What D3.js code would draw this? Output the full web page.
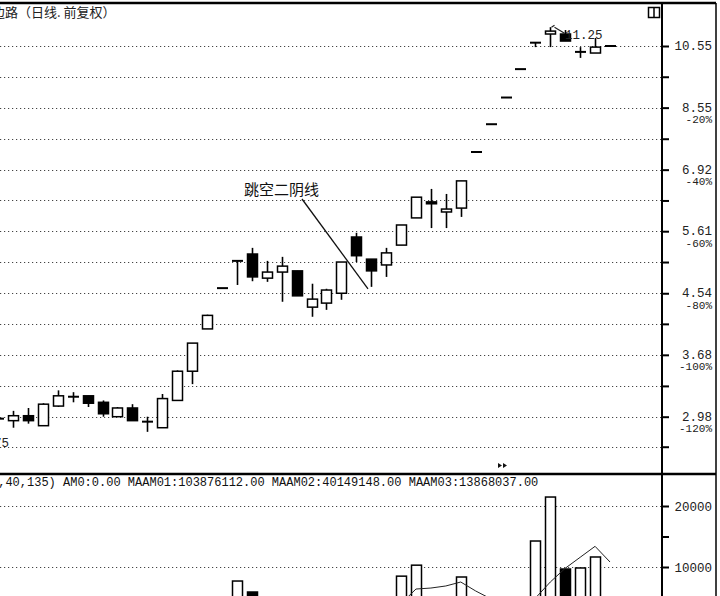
<!DOCTYPE html>
<html><head><meta charset="utf-8">
<script src="https://cdn.jsdelivr.net/npm/d3@7/dist/d3.min.js"></script>
<style>body{margin:0;background:#fff}svg{display:block}</style>
</head><body><svg id="c" width="720" height="596"></svg>
<script>
// ---- data (day index -1 .. 40) ----
const days  = d3.range(-1, 41);
const open  = [2.96,2.94,2.99,2.89,3.09,3.19,3.20,3.13,2.98,3.07,2.93,2.87,3.15,3.48,4.02,4.62,5.07,5.19,4.78,4.88,4.90,4.33,4.39,4.54,5.50,5.10,5.00,5.35,5.87,6.20,5.99,6.07,7.35,8.08,8.85,9.75,10.67,10.99,10.99,10.34,10.30,10.55];
const high  = [2.96,3.04,3.07,3.12,3.26,3.24,3.20,3.15,3.08,3.11,2.98,3.22,3.49,3.83,4.22,4.62,5.07,5.30,5.07,5.14,4.90,4.69,4.61,5.05,5.58,5.10,5.30,5.73,6.30,6.48,6.37,6.66,7.35,8.08,8.85,9.75,10.67,11.25,11.14,10.51,10.84,10.55];
const low   = [2.96,2.87,2.91,2.89,3.08,3.13,3.08,2.98,2.98,2.94,2.83,2.87,3.15,3.33,4.02,4.62,4.67,4.73,4.72,4.41,4.50,4.19,4.29,4.44,5.05,4.64,4.80,5.35,5.87,5.67,5.67,5.89,7.35,8.08,8.85,9.75,10.51,10.51,10.73,10.13,10.30,10.55];
const close = [2.96,2.99,2.94,3.11,3.20,3.19,3.12,3.01,3.07,2.94,2.93,3.17,3.48,3.83,4.21,4.62,5.07,4.80,4.88,4.98,4.50,4.45,4.59,5.05,5.16,4.90,5.21,5.73,6.30,6.16,6.05,6.66,7.35,8.08,8.85,9.75,10.67,11.10,10.73,10.34,10.51,10.55];
const volume = [2000,2200,2100,3800,3000,1800,2200,2600,1900,2500,2100,4200,4600,4900,4500,1200,7700,5900,3600,4700,4800,3900,3300,5000,4900,3800,3900,8500,10300,4800,4600,8360,900,700,800,2900,14260,21470,9670,9840,11640,3000];
const volMAdays = d3.range(20, 41);
const volMA = [4300,4200,4000,4300,4400,4300,4000,6390,6550,6890,7540,6070,4800,3600,2900,4900,7540,9790,11590,13390,10820];

const gridPrices = [10.55,9.50,8.55,7.69,6.92,6.23,5.61,5.05,4.54,4.09,3.68,3.31,2.98,2.69];
const priceLabels = ["10.55","8.55","6.92","5.61","4.54","3.68","2.98"];
const pctLabels   = ["","-20%","-40%","-60%","-80%","-100%","-120%"];
const volTicks = [20000,15000,10000];
const volLabels = [20000,10000];

const titleText = "边路（日线. 前复权）";
const indText = "AMO(5,40,135) AM0:0.00 MAAM01:103876112.00 MAAM02:40149148.00 MAAM03:13868037.00";
const noteText = "跳空二阴线";
const highMark = "11.25";
const lowMark = "2.75";

// ---- layout ----
const svg = d3.select("#c");
const axisX = 662, mainTop = 4, mainBot = 474, W = 720, H = 596;
const x  = d3.scaleLinear().domain([0, 40]).range([13, 610]);
const y  = d3.scaleLog().domain([2.98, 10.55]).range([416.7, 46]);
const yv = d3.scaleLinear().domain([0, 20000]).range([628, 506]);
const mono = "'Liberation Mono','DejaVu Sans Mono',monospace";
const cjk = "'Noto Sans CJK SC','Noto Sans CJK JP',sans-serif";

const defs = svg.append("defs");
defs.append("clipPath").attr("id","cm").append("rect").attr("x",0).attr("y",mainTop).attr("width",axisX-1).attr("height",mainBot-mainTop-1);
defs.append("clipPath").attr("id","cv").append("rect").attr("x",0).attr("y",mainBot+1).attr("width",axisX-1).attr("height",H-mainBot);

// gridlines main
svg.append("g").selectAll("line").data(gridPrices).join("line")
  .attr("x1",0).attr("x2",axisX).attr("y1",d=>Math.round(y(d))+0.5).attr("y2",d=>Math.round(y(d))+0.5)
  .attr("stroke","#444").attr("stroke-width",1.2).attr("stroke-dasharray","1.2,2.8");
// gridlines volume
svg.append("g").selectAll("line").data(volLabels).join("line")
  .attr("x1",0).attr("x2",axisX).attr("y1",d=>Math.round(yv(d))+0.5).attr("y2",d=>Math.round(yv(d))+0.5)
  .attr("stroke","#444").attr("stroke-width",1.2).attr("stroke-dasharray","1.2,2.8");

// right axes ticks
const ax = svg.append("g").attr("transform",`translate(${axisX},0)`)
  .call(d3.axisRight(y).tickValues(gridPrices).tickSize(7).tickFormat(""));
ax.select(".domain").remove();
ax.selectAll("line").attr("stroke","#000").attr("stroke-width",2);
const axv = svg.append("g").attr("transform",`translate(${axisX},0)`)
  .call(d3.axisRight(yv).tickValues(volTicks).tickSize(7).tickFormat(""));
axv.select(".domain").remove();
axv.selectAll("line").attr("stroke","#000").attr("stroke-width",2);

// price labels
const lab = svg.append("g").attr("font-family",mono).attr("fill","#222").attr("text-anchor","end");
priceLabels.forEach((t,i)=>{
  const yy = y(+t);
  lab.append("text").attr("x",712).attr("y",yy+4).attr("font-size",12.5).text(t);
  if (pctLabels[i]) lab.append("text").attr("x",712).attr("y",yy+15.5).attr("font-size",11).text(pctLabels[i]);
});
volLabels.forEach(v=>{
  lab.append("text").attr("x",712).attr("y",yv(v)+5).attr("font-size",12.5).text(v);
});

// candles
const gc = svg.append("g").attr("clip-path","url(#cm)");
days.forEach((d,i)=>{
  const cx = Math.round(x(d)) + 0.5;
  const yo = y(open[i]), yc = y(close[i]), yh = y(high[i]), yl = y(low[i]);
  const down = close[i] < open[i];
  if (yl - yh > 0.8) gc.append("line").attr("x1",cx).attr("x2",cx).attr("y1",yh).attr("y2",yl).attr("stroke","#000").attr("stroke-width",1.6);
  if (Math.abs(yo - yc) < 1.5) {
    gc.append("line").attr("x1",cx-5.5).attr("x2",cx+5.5).attr("y1",yo).attr("y2",yo).attr("stroke","#000").attr("stroke-width",2);
  } else {
    gc.append("rect").attr("x",cx-5).attr("y",Math.min(yo,yc)).attr("width",10).attr("height",Math.abs(yo-yc))
      .attr("fill",down?"#000":"#fff").attr("stroke","#000").attr("stroke-width",1.5);
  }
});

// volume bars
const gv = svg.append("g").attr("clip-path","url(#cv)");
days.forEach((d,i)=>{
  const cx = Math.round(x(d)) + 0.5;
  const down = close[i] < open[i];
  gv.append("rect").attr("x",cx-5).attr("y",yv(volume[i])).attr("width",10).attr("height",yv(0)-yv(volume[i]))
    .attr("fill",down?"#000":"#fff").attr("stroke","#000").attr("stroke-width",1.5);
});
gv.append("path").datum(volMAdays.map((d,i)=>[x(d),yv(volMA[i])]))
  .attr("d",d3.line()).attr("fill","none").attr("stroke","#222").attr("stroke-width",1);

// frame lines
svg.append("line").attr("x1",0).attr("x2",W-4).attr("y1",3).attr("y2",3).attr("stroke","#000").attr("stroke-width",2.5);
svg.append("line").attr("x1",0).attr("x2",W-4).attr("y1",mainBot).attr("y2",mainBot).attr("stroke","#000").attr("stroke-width",2.5);
svg.append("line").attr("x1",axisX).attr("x2",axisX).attr("y1",3).attr("y2",H).attr("stroke","#000").attr("stroke-width",2);
svg.append("line").attr("x1",W-4).attr("x2",W-4).attr("y1",3).attr("y2",H).attr("stroke","#000").attr("stroke-width",1.5);

// top-right icon
svg.append("rect").attr("x",648.5).attr("y",7.5).attr("width",11).attr("height",10).attr("fill","#fff").attr("stroke","#000").attr("stroke-width",1.5);
svg.append("line").attr("x1",654).attr("x2",654).attr("y1",7.5).attr("y2",17.5).attr("stroke","#000").attr("stroke-width",1.5);

// title
svg.append("text").attr("x",-8).attr("y",17).attr("font-family",cjk).attr("font-size",13).attr("fill","#222").text(titleText);

// high / low markers
const hx = Math.round(x(36))+0.5, hy = y(11.25);
svg.append("path").attr("d",`M${hx+1},${hy} L${hx+4},${hy-2} M${hx+4},${hy} L${hx+14},${hy+6}`).attr("stroke","#222").attr("fill","none").attr("stroke-width",1.2);
svg.append("text").attr("x",565).attr("y",39).attr("font-family",mono).attr("font-size",12.5).attr("fill","#222").text(highMark);
svg.append("text").attr("x",9).attr("y",447).attr("text-anchor","end").attr("font-family",mono).attr("font-size",12.5).attr("fill","#222").text(lowMark);

// annotation
svg.append("text").attr("x",244).attr("y",195).attr("font-family",cjk).attr("font-size",15).attr("fill","#111").text(noteText);
const ex = Math.round(x(24)) - 3, ey = y(low[25]) + 2;
svg.append("line").attr("x1",302).attr("y1",199).attr("x2",ex).attr("y2",ey).attr("stroke","#111").attr("stroke-width",1.3);

// ▸▸ marker
svg.append("path").attr("d","M498,463 L502,465.5 L498,468 Z M503,463 L507,465.5 L503,468 Z").attr("fill","#111");

// indicator text
svg.append("text").attr("x",63 - 14*7.2).attr("y",486).attr("font-family",mono).attr("font-size",12).attr("fill","#111").text(indText);
</script></body></html>
